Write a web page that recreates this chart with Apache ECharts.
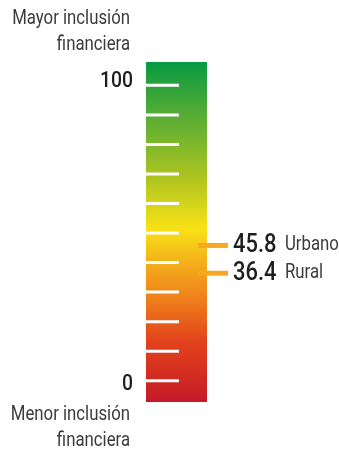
<!DOCTYPE html>
<html>
<head>
<meta charset="utf-8">
<script src="https://cdn.jsdelivr.net/npm/echarts@6/dist/echarts.min.js"></script>
<style>
  html, body { margin: 0; padding: 0; background: #ffffff; }
  #chart { width: 339px; height: 452px; }
</style>
</head>
<body>
<div id="chart"></div>
<script>
// Scale from 0 to 100 with a tick every 10 units
const scaleRange = [-7.2, 107.9];
const tickValues = [0, 10, 20, 30, 40, 50, 60, 70, 80, 90, 100];
const tickLabels = ['0', '100'];
const tickLabelValues = [0, 100];

// Index values by area
const areas = ['Urbano', 'Rural'];
const areaValues = [45.8, 36.4];

const topCaption = ['Mayor inclusión', 'financiera'];
const bottomCaption = ['Menor inclusión', 'financiera'];

const FONT = 'Roboto, "Liberation Sans", sans-serif';
const SQUEEZE = 0.86;

const chart = echarts.init(document.getElementById('chart'), null, { renderer: 'canvas' });

const gradient = new echarts.graphic.LinearGradient(0, 0, 0, 1, [
  { offset: 0.00, color: '#079A42' },
  { offset: 0.17, color: '#5DAE33' },
  { offset: 0.35, color: '#B2C61F' },
  { offset: 0.49, color: '#F8E216' },
  { offset: 0.58, color: '#F4B41A' },
  { offset: 0.70, color: '#EE7E1B' },
  { offset: 0.82, color: '#E2431C' },
  { offset: 0.93, color: '#D22A22' },
  { offset: 1.00, color: '#C31A2A' }
]);

function captionLines(lines, x, y0, gap) {
  return lines.map((t, i) => ({
    type: 'text',
    x: x,
    y: y0 + i * gap,
    scaleX: SQUEEZE,
    style: {
      text: t,
      fill: '#3b3b3b',
      font: '19.5px ' + FONT,
      align: 'right',
      verticalAlign: 'middle'
    }
  }));
}

const option = {
  animation: false,
  backgroundColor: '#ffffff',
  grid: { left: 146, width: 61, top: 62, bottom: 50 },
  xAxis: { type: 'value', min: 0, max: 1, show: false },
  yAxis: { type: 'value', min: scaleRange[0], max: scaleRange[1], show: false },
  graphic: [
    ...captionLines(topCaption, 130, 19, 26),
    ...captionLines(bottomCaption, 130, 415, 26)
  ],
  series: [
    {
      // gradient scale bar
      type: 'custom',
      data: [[0, scaleRange[0], 1, scaleRange[1]]],
      renderItem: function (params, api) {
        const a = api.coord([api.value(0), api.value(3)]);
        const b = api.coord([api.value(2), api.value(1)]);
        return {
          type: 'rect',
          shape: { x: a[0], y: a[1], width: b[0] - a[0], height: b[1] - a[1] },
          style: { fill: gradient }
        };
      },
      z: 1
    },
    {
      // white tick marks
      type: 'custom',
      data: tickValues.map(v => [0, v]),
      renderItem: function (params, api) {
        const p = api.coord([api.value(0), api.value(1)]);
        return {
          type: 'line',
          shape: { x1: p[0], y1: p[1], x2: p[0] + 33, y2: p[1] },
          style: { stroke: '#ffffff', lineWidth: 3 }
        };
      },
      z: 2
    },
    {
      // end labels of the scale
      type: 'custom',
      data: tickLabelValues.map((v, i) => [0, v, tickLabels[i]]),
      renderItem: function (params, api) {
        const v = api.value(1);
        const p = api.coord([0, v]);
        const shift = v >= 100 ? -4 : 4;
        return {
          type: 'text',
          x: p[0] - 13,
          y: p[1] + shift,
          scaleX: SQUEEZE,
          style: {
            text: tickLabels[params.dataIndex],
            fill: '#1e1e1e',
            font: '500 22.5px ' + FONT,
            align: 'right',
            verticalAlign: 'middle'
          }
        };
      },
      z: 3
    },
    {
      // area markers with value and name
      type: 'custom',
      data: areaValues.map((v, i) => [1, v]),
      renderItem: function (params, api) {
        const v = api.value(1);
        const p = api.coord([1, v]);
        const name = areas[params.dataIndex];
        return {
          type: 'group',
          children: [
            {
              type: 'line',
              shape: { x1: p[0] - 9, y1: p[1], x2: p[0] + 21, y2: p[1] },
              style: { stroke: '#F7A823', lineWidth: 5 }
            },
            {
              type: 'text',
              x: p[0] + 26,
              y: p[1],
              scaleX: SQUEEZE,
              style: {
                text: '{v|' + v.toFixed(1) + '} {n|' + name + '}',
                font: '19.5px ' + FONT,
                align: 'left',
                verticalAlign: 'middle',
                rich: {
                  v: { font: '500 25.5px ' + FONT, fill: '#1e1e1e', lineHeight: 28 },
                  n: { font: '19.5px ' + FONT, fill: '#3b3b3b', lineHeight: 28, padding: [0, 0, 0, 5] }
                }
              }
            }
          ]
        };
      },
      z: 4
    }
  ]
};

chart.setOption(option);
</script>
</body>
</html>
